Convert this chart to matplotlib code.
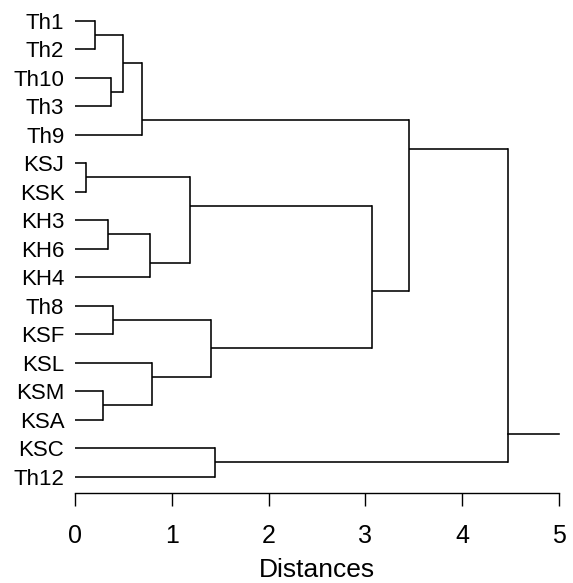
import matplotlib
matplotlib.use("Agg")
import matplotlib.pyplot as plt

plt.rcParams['font.family'] = ['Liberation Sans', 'DejaVu Sans']

# leaves, top to bottom
leaves = ['Th1', 'Th2', 'Th10', 'Th3', 'Th9', 'KSJ', 'KSK', 'KH3', 'KH6', 'KH4',
          'Th8', 'KSF', 'KSL', 'KSM', 'KSA', 'KSC', 'Th12']

# merges: (left child, right child, distance)
# ids 0..16 are leaves, merge k gets id 17 + k
merge_left = [0, 2, 17, 19, 5, 7, 22, 21, 10, 13, 12, 25, 15, 24, 20, 31]
merge_right = [1, 3, 18, 4, 6, 8, 9, 23, 11, 14, 26, 27, 16, 28, 30, 29]
merge_height = [0.21, 0.37, 0.50, 0.69, 0.12, 0.34, 0.78, 1.19,
                0.40, 0.29, 0.80, 1.41, 1.45, 3.07, 3.45, 4.475]
root_end = 5.0

n = len(leaves)
lo = list(range(n))
hi = list(range(n))
ypos = [float(i) for i in range(n)]
xpos = [0.0] * n

fig = plt.figure(figsize=(5.73, 5.83), dpi=100)
W, H = 573, 583
x0px, x5px = 74.7, 559.3
ax = fig.add_axes([x0px / W, (H - 492.7) / H, (x5px - x0px) / W, 492.7 / H])

lw = 1.15
for a, b, h in zip(merge_left, merge_right, merge_height):
    if lo[a] > lo[b]:
        a, b = b, a
    ya, yb = ypos[a], ypos[b]
    ax.plot([xpos[a], h], [ya, ya], color='black', lw=lw, solid_capstyle='butt')
    ax.plot([xpos[b], h], [yb, yb], color='black', lw=lw, solid_capstyle='butt')
    ax.plot([h, h], [ya, yb], color='black', lw=lw, solid_capstyle='projecting')
    lo.append(min(lo[a], lo[b]))
    hi.append(max(hi[a], hi[b]))
    # connector sits at the boundary between the two children's leaves
    ypos.append((hi[a] + lo[b]) / 2)
    xpos.append(h)

ax.plot([xpos[-1], root_end], [ypos[-1], ypos[-1]], color='black', lw=lw,
        clip_on=False)

ax.set_xlim(0, 5)
ax.set_ylim((492.7 - 20.7) / 28.5, -20.7 / 28.5)
ax.set_xticks(range(6))
ax.set_yticks(range(n))
ax.set_yticklabels(leaves, fontsize=16)
ax.tick_params(axis='y', length=0, pad=7.5)
ax.tick_params(axis='x', length=9.6, width=1.0, direction='out', pad=13,
               labelsize=18)
for s in ['top', 'right', 'left']:
    ax.spines[s].set_visible(False)
ax.spines['bottom'].set_bounds(0, 5)
ax.spines['bottom'].set_linewidth(1.0)
ax.set_xlabel('Distances', fontsize=19, labelpad=7)

fig.savefig('out.png', dpi=100)
